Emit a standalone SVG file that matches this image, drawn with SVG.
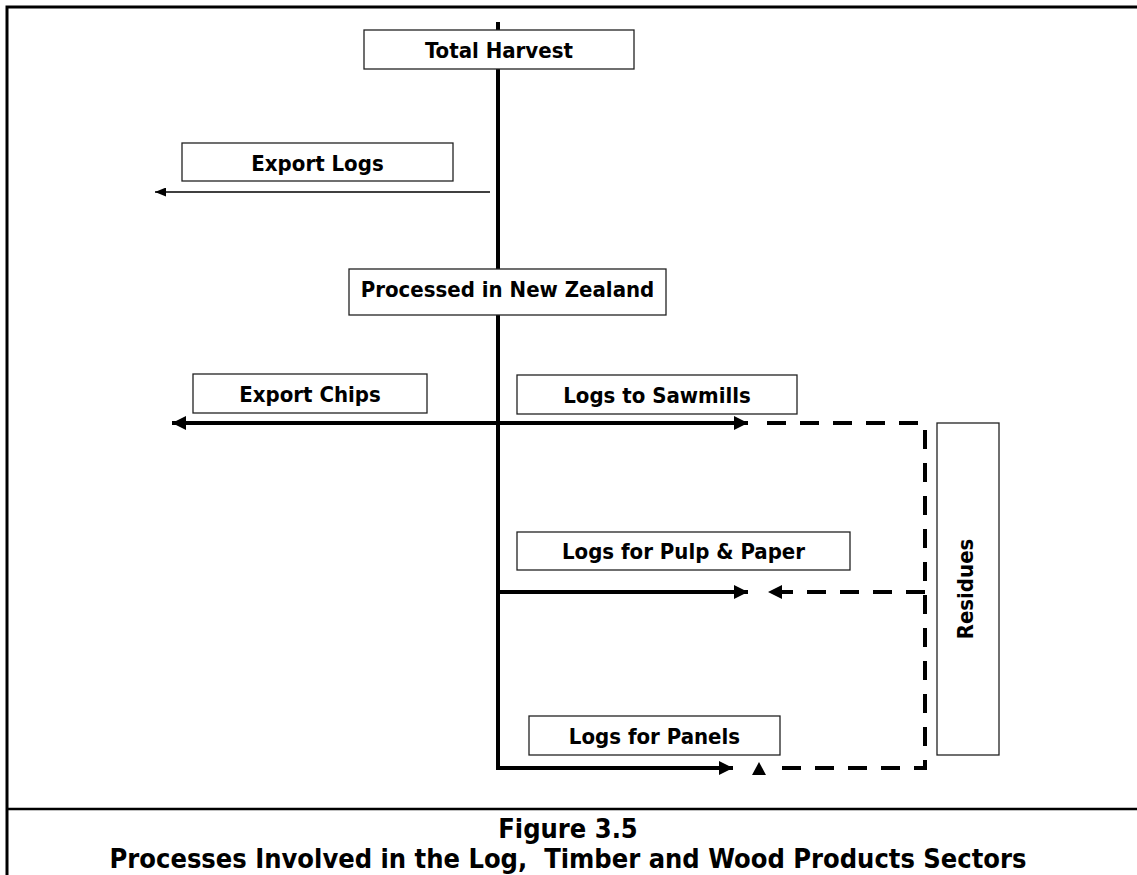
<svg xmlns="http://www.w3.org/2000/svg" width="1137" height="875" viewBox="0 0 1137 875">
<style>
.box{fill:#fff;stroke:#222;stroke-width:1.3}
.lbl{font-family:"DejaVu Sans Condensed","DejaVu Sans","Liberation Sans",sans-serif;font-stretch:condensed;font-weight:bold;font-size:22px;fill:#000;text-anchor:middle}
.cap{font-family:"DejaVu Sans Condensed","DejaVu Sans","Liberation Sans",sans-serif;font-stretch:condensed;font-weight:bold;font-size:27px;fill:#000;text-anchor:middle}
.thick{fill:none;stroke:#000;stroke-width:4}
.thin{fill:none;stroke:#000;stroke-width:1.5}
.dash{fill:none;stroke:#000;stroke-width:4;stroke-dasharray:19 14}
</style>
<defs>
<marker id="ah" markerUnits="userSpaceOnUse" markerWidth="14" markerHeight="14" refX="14" refY="7" orient="auto-start-reverse" viewBox="0 0 14 14"><path d="M0,0 L14,7 L0,14 z" fill="#000"/></marker>
<marker id="ahs" markerUnits="userSpaceOnUse" markerWidth="11" markerHeight="9" refX="11" refY="4.5" orient="auto" viewBox="0 0 11 9"><path d="M0,0 L11,4.5 L0,9 z" fill="#000"/></marker>
</defs>
<rect width="1137" height="875" fill="#fff"/>
<g id="frame" fill="none" stroke="#000">
<path d="M7,875 V7 H1137" stroke-width="3"/>
<path d="M7,809 H1137" stroke-width="2.5"/>
</g>
<g id="connectors">
<path class="thick" d="M498,22 V768 H733" marker-end="url(#ah)"/>
<path class="thick" d="M172,423 H748" marker-start="url(#ah)" marker-end="url(#ah)"/>
<path class="thick" d="M498,592 H748" marker-end="url(#ah)"/>
<path class="thin" d="M490,192 H155" marker-end="url(#ahs)"/>
<path class="dash" d="M767,423 H925 V768 H770"/>
<path class="dash" d="M925,592 H768" marker-end="url(#ah)"/>
<polygon points="759,762 766,775 752,775" fill="#000"/>
</g>
<g id="total-harvest"><rect class="box" x="364" y="30" width="270" height="39"/><text class="lbl" x="499" y="58">Total Harvest</text></g>
<g id="export-logs"><rect class="box" x="182" y="143" width="271" height="38"/><text class="lbl" x="317.5" y="171">Export Logs</text></g>
<g id="processed-nz"><rect class="box" x="349" y="269" width="317" height="46"/><text class="lbl" x="507.5" y="297">Processed in New Zealand</text></g>
<g id="export-chips"><rect class="box" x="193" y="374" width="234" height="39"/><text class="lbl" x="310" y="402">Export Chips</text></g>
<g id="logs-sawmills"><rect class="box" x="517" y="375" width="280" height="39"/><text class="lbl" x="657" y="403">Logs to Sawmills</text></g>
<g id="logs-pulp"><rect class="box" x="517" y="532" width="333" height="38"/><text class="lbl" x="683.5" y="559">Logs for Pulp &amp; Paper</text></g>
<g id="logs-panels"><rect class="box" x="529" y="716" width="251" height="39"/><text class="lbl" x="654.5" y="744">Logs for Panels</text></g>
<g id="residues"><rect class="box" x="937" y="423" width="62" height="332"/><text class="lbl" transform="translate(973,589) rotate(-90)" x="0" y="0">Residues</text></g>
<g id="caption">
<text class="cap" x="568" y="838">Figure 3.5</text>
<text class="cap" x="568" y="868" xml:space="preserve">Processes Involved in the Log,  Timber and Wood Products Sectors</text>
</g>
</svg>
